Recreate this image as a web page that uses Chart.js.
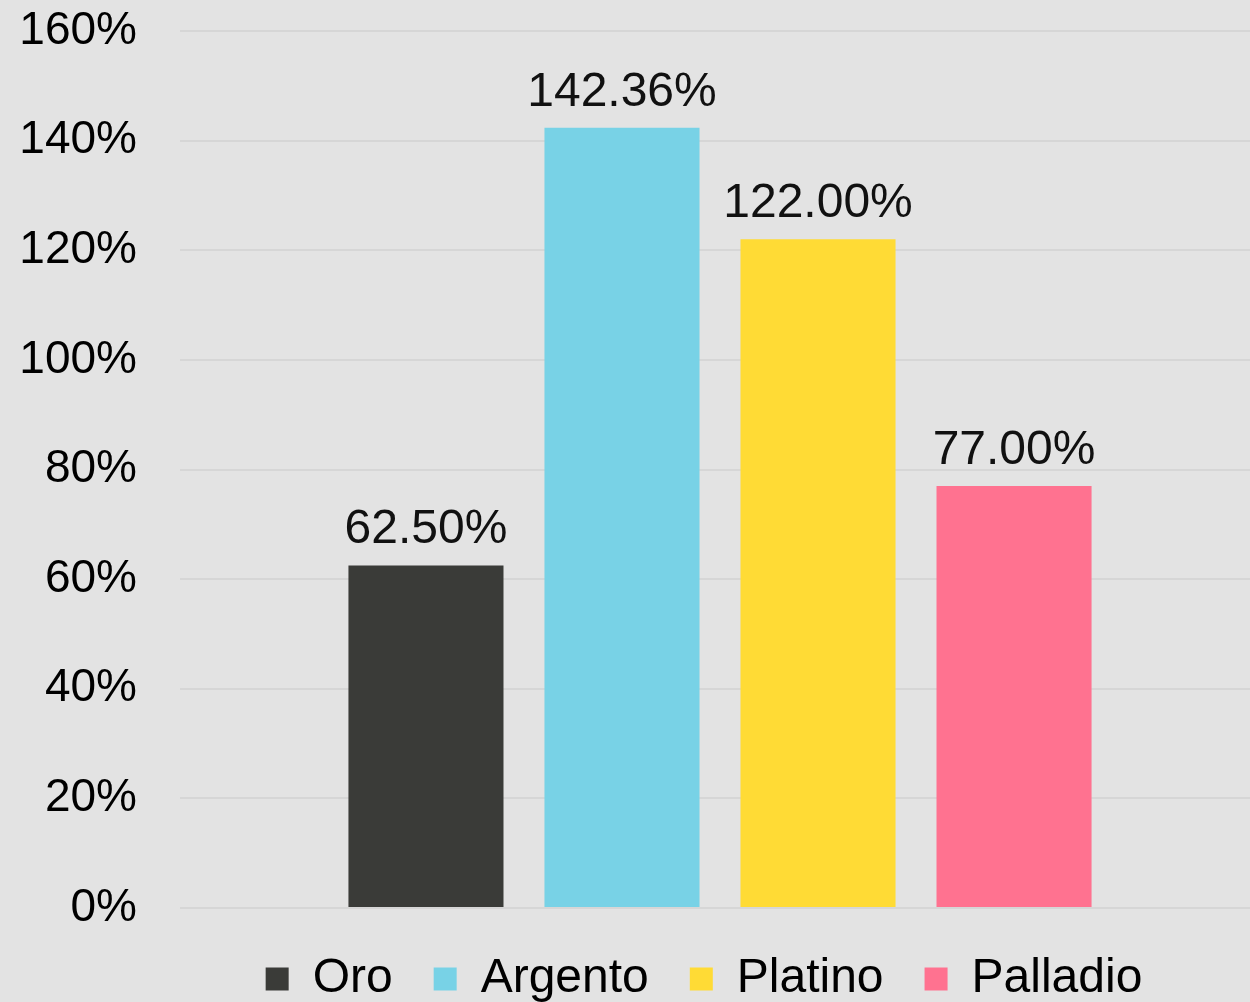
<!DOCTYPE html>
<html>
<head>
<meta charset="utf-8">
<script src="https://cdn.jsdelivr.net/npm/chart.js@4.4.1/dist/chart.umd.min.js"></script>
<style>
  html, body { margin: 0; padding: 0; overflow: hidden; background: #e3e3e3; }
  #wrap { width: 1260px; height: 1002px; }
</style>
</head>
<body>
<div id="wrap"><canvas id="metalsChart" width="1260" height="1002"></canvas></div>
<script>
const categories = [""];
const seriesNames = ["Oro", "Argento", "Platino", "Palladio"];
const seriesValues = [62.5, 142.36, 122.0, 77.0];
const seriesColors = ["#3a3b38", "#78d2e6", "#ffdb35", "#ff7290"];
const yTicks = { min: 0, max: 160, step: 20 };

const fontFamily = "'Liberation Sans', Arial, sans-serif";

// value labels centred above each bar
const barValueLabels = {
  id: "barValueLabels",
  afterDatasetsDraw(chart) {
    const ctx = chart.ctx;
    ctx.save();
    ctx.font = `48px ${fontFamily}`;
    ctx.fillStyle = "#111";
    ctx.textAlign = "center";
    ctx.textBaseline = "alphabetic";
    chart.data.datasets.forEach((ds, i) => {
      const bar = chart.getDatasetMeta(i).data[0];
      ctx.fillText(ds.data[0].toFixed(2) + "%", bar.x, bar.y - 22);
    });
    ctx.restore();
  }
};

// nudge the legend row a bit left and down
const legendShift = {
  id: "legendShift",
  afterLayout(chart) {
    const lg = chart.legend;
    lg.left -= 16;
    lg.right -= 16;
    lg.top += 6;
    lg.bottom += 6;
  }
};

new Chart(document.getElementById("metalsChart"), {
  type: "bar",
  data: {
    labels: categories,
    datasets: seriesNames.map((name, i) => ({
      label: name,
      data: [seriesValues[i]],
      backgroundColor: seriesColors[i],
      borderWidth: 0,
      categoryPercentage: 0.726,
      barPercentage: 0.791
    }))
  },
  options: {
    responsive: false,
    animation: false,
    devicePixelRatio: 1,
    layout: { padding: { left: 0, top: 31, right: 0, bottom: -5 } },
    scales: {
      x: { display: false },
      y: {
        min: yTicks.min,
        max: yTicks.max,
        border: { display: false },
        grid: { color: "#d6d6d6", lineWidth: 2, drawTicks: false },
        ticks: {
          stepSize: yTicks.step,
          padding: 43,
          color: "#000",
          font: { family: fontFamily, size: 46 },
          callback: (v) => v + "%"
        },
        afterFit(scale) {
          // fixed gutter for the tick labels; no extra vertical padding
          scale.width = 180;
          scale.paddingTop = 0;
          scale.paddingBottom = 0;
        }
      }
    },
    plugins: {
      tooltip: { enabled: false },
      legend: {
        position: "bottom",
        fullSize: false,
        labels: {
          boxWidth: 23,
          boxHeight: 23,
          padding: 41,
          color: "#000",
          font: { family: fontFamily, size: 48 }
        }
      }
    }
  },
  plugins: [barValueLabels, legendShift]
});
</script>
</body>
</html>
